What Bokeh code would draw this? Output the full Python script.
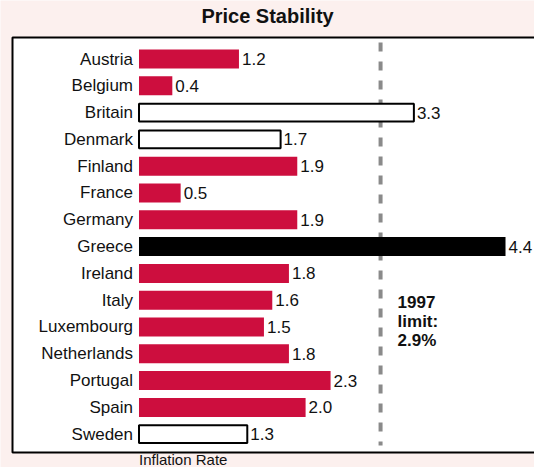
from bokeh.plotting import figure
from bokeh.models import Range1d, ColumnDataSource
from bokeh.core.properties import value
from bokeh.embed import file_html
from bokeh.resources import INLINE

# ---- data ----
countries = ["Austria", "Belgium", "Britain", "Denmark", "Finland", "France",
             "Germany", "Greece", "Ireland", "Italy", "Luxembourg",
             "Netherlands", "Portugal", "Spain", "Sweden"]
inflation = [1.2, 0.4, 3.3, 1.7, 1.9, 0.5, 1.9, 4.4, 1.8, 1.6, 1.5, 1.8, 2.3, 2.0, 1.3]
group = ["member", "member", "optout", "optout", "member", "member", "member",
         "excluded", "member", "member", "member", "member", "member", "member", "optout"]
limit = 2.9
title_text = "Price Stability"
x_label = "Inflation Rate"
limit_label = "1997\nlimit:\n2.9%"

FONT = value("Liberation Sans")
RED = "#cd0e3e"
BG = "#fcf0ee"

rows = list(range(len(countries)))
labels = [f"{v:.1f}" for v in inflation]

fill_rows = [i for i in rows if group[i] != "optout"]
out_rows = [i for i in rows if group[i] == "optout"]

src_fill = ColumnDataSource(dict(
    y=fill_rows,
    right=[inflation[i] for i in fill_rows],
    color=["black" if group[i] == "excluded" else RED for i in fill_rows],
))
src_out = ColumnDataSource(dict(
    y=out_rows,
    right=[inflation[i] for i in out_rows],
))
src_all = ColumnDataSource(dict(y=rows, v=inflation, name=countries, lab=labels,
                                zero=[0] * len(rows)))

p = figure(width=534, height=467, output_backend="svg", toolbar_location=None,
           x_range=Range1d(-1.6627, 4.748), y_range=Range1d(15.243, -2.183),
           x_axis_type=None, y_axis_type=None, min_border=0,
           background_fill_color=BG, border_fill_color=BG,
           outline_line_color=None)
p.grid.visible = False

# white panel with black border (right side runs off the page)
p.quad(left=-1.5186, right=6.0, top=-0.802, bottom=14.683,
       fill_color="white", line_color="black", line_width=2)

# limit line
p.segment(x0=limit, x1=limit, y0=-0.616, y1=14.42, line_color="#8a8a8a",
          line_width=4, line_dash="9 10")

# bars
p.hbar(y="y", left=0, right="right", height=0.71, fill_color="color",
       line_color=None, source=src_fill)
p.hbar(y="y", left=0, right="right", height=0.66, fill_color="white",
       line_color="black", line_width=2, source=src_out)

# country names
p.text(x="zero", y="y", text="name", source=src_all, x_offset=-6,
       text_align="right", text_baseline="middle", text_font=FONT,
       text_font_size="17px", text_color="#111111")
# values
p.text(x="v", y="y", text="lab", source=src_all, x_offset=3,
       text_align="left", text_baseline="middle", text_font=FONT,
       text_font_size="17px", text_color="#111111")

# title
p.text(x=[1.543], y=[-1.623], text=[title_text], text_align="center",
       text_baseline="middle", text_font=FONT, text_font_size="20px",
       text_font_style="bold", text_color="#111111")

# x label
p.text(x=[0], y=[14.944], text=[x_label], text_align="left",
       text_baseline="middle", text_font=FONT, text_font_size="15px",
       text_color="#111111")

# limit annotation
p.text(x=[limit], y=[8.75], text=[limit_label], x_offset=17,
       text_align="left", text_baseline="top", text_font=FONT,
       text_font_size="17px", text_font_style="bold", text_line_height=1.0,
       text_color="#111111")

open("out.html", "w").write(file_html(p, INLINE))
